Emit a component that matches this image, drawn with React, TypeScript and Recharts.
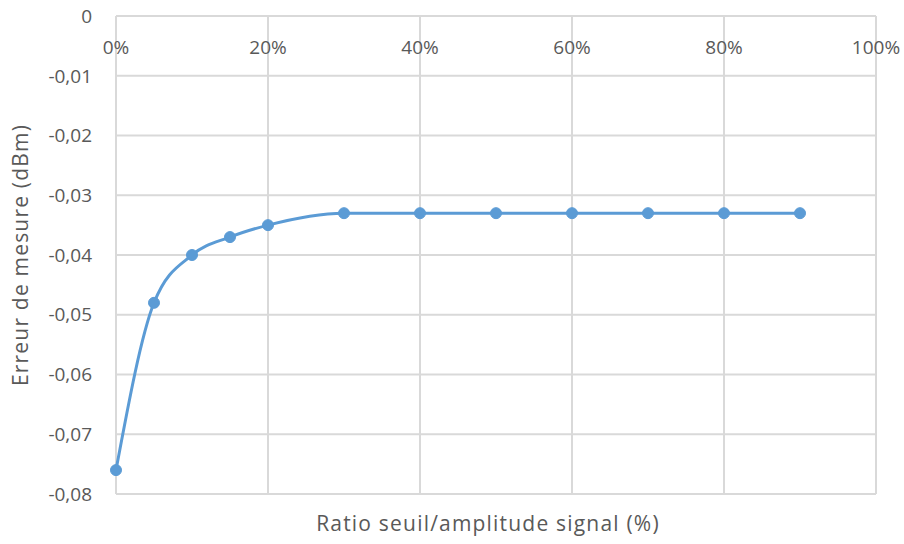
import { CartesianGrid, Line, LineChart, XAxis, YAxis } from "recharts";

// Ratio seuil/amplitude (fraction) and measurement error (dBm)
const ratios = [0, 0.05, 0.1, 0.15, 0.2, 0.3, 0.4, 0.5, 0.6, 0.7, 0.8, 0.9];
const errors = [
  -0.076, -0.048, -0.04, -0.037, -0.035, -0.033, -0.033, -0.033, -0.033,
  -0.033, -0.033, -0.033,
];
const xTicks = [0, 0.2, 0.4, 0.6, 0.8, 1];
const yTicks = [0, -0.01, -0.02, -0.03, -0.04, -0.05, -0.06, -0.07, -0.08];

const data = ratios.map((r, i) => ({ ratio: r, err: errors[i] }));

const FONT = "'Open Sans', sans-serif";
const TEXT = "#595959";
const GRID = "#d9d9d9";
const BLUE = "#5b9bd5";

const fmtY = (v: number): string =>
  v === 0 ? "0" : v.toFixed(2).replace(".", ",");

// Excel draws the category labels under the top (zero) line
const TopTick = (props: any) => {
  const { x, y, payload } = props;
  return (
    <text
      x={x}
      y={y + 46}
      textAnchor="middle"
      fill={TEXT}
      fontSize={19}
      fontFamily={FONT}
    >
      {`${Math.round(payload.value * 100)}%`}
    </text>
  );
};

export default function App() {
  return (
    <div
      style={{
        position: "absolute",
        left: 0,
        top: 0,
        width: 904,
        height: 544,
        background: "#fff",
      }}
    >
      <LineChart
        width={904}
        height={544}
        data={data}
        margin={{ top: 16, right: 28, left: 0, bottom: 0 }}
      >
        <CartesianGrid stroke={GRID} strokeWidth={2} />
        <XAxis
          dataKey="ratio"
          type="number"
          domain={[0, 1]}
          ticks={xTicks}
          orientation="top"
          height={0.01}
          axisLine={false}
          tickLine={false}
          tick={<TopTick />}
          interval={0}
        />
        <XAxis
          xAxisId="title"
          dataKey="ratio"
          type="number"
          domain={[0, 1]}
          orientation="bottom"
          height={50}
          axisLine={false}
          tickLine={false}
          tick={false}
          label={{
            value: "Ratio seuil/amplitude signal (%)",
            position: "insideBottom",
            offset: 13,
            dx: -8,
            fill: TEXT,
            fontSize: 21,
            fontFamily: FONT,
            style: { letterSpacing: 1.2 },
          }}
        />
        <YAxis
          type="number"
          domain={[-0.08, 0]}
          ticks={yTicks}
          tickFormatter={fmtY}
          width={116}
          axisLine={false}
          tickLine={false}
          tickMargin={18}
          tick={{ fill: TEXT, fontSize: 19, fontFamily: FONT }}
          interval={0}
          label={{
            value: "Erreur de mesure (dBm)",
            angle: -90,
            position: "insideLeft",
            dx: 16,
            fill: TEXT,
            fontSize: 21,
            fontFamily: FONT,
            style: { textAnchor: "middle", letterSpacing: 1.2 },
          }}
        />
        <Line
          type="monotone"
          dataKey="err"
          stroke={BLUE}
          strokeWidth={3}
          dot={{ r: 5.5, fill: BLUE, stroke: BLUE, strokeWidth: 1 }}
          isAnimationActive={false}
        />
      </LineChart>
    </div>
  );
}
